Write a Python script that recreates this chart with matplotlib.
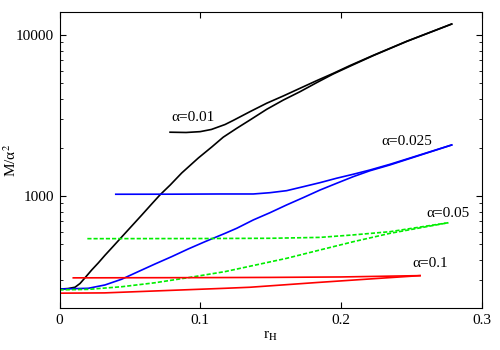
import matplotlib
matplotlib.use('Agg')
import matplotlib.pyplot as plt
from matplotlib.ticker import LogLocator, NullFormatter, FixedLocator, FixedFormatter

# alpha = 0.01
black_low_x = [0, 0.006, 0.011, 0.0146, 0.0181, 0.0229, 0.0276, 0.0323, 0.0383, 0.0442, 0.0513,
               0.0584, 0.0655, 0.0714, 0.0787, 0.0869, 0.0987, 0.1082, 0.1164, 0.126, 0.1354,
               0.1473, 0.1591, 0.171, 0.1828, 0.1946, 0.2065, 0.2231, 0.2468, 0.2788]
black_low_y = [264, 266, 271, 286, 310, 347, 384, 428, 488, 556, 650,
               760, 891, 1015, 1170, 1390, 1722, 2014, 2319, 2633, 2965,
               3455, 3944, 4446, 5058, 5728, 6400, 7450, 9120, 11700]
black_up_x = [0.0786, 0.09, 0.1, 0.108, 0.1177, 0.1236, 0.1354, 0.1473, 0.1591, 0.171, 0.1828,
              0.1946, 0.2065, 0.2231, 0.2468, 0.2788]
black_up_y = [2490, 2480, 2510, 2590, 2780, 2950, 3340, 3769, 4182, 4668, 5204,
              5778, 6460, 7480, 9140, 11700]

# alpha = 0.025
blue_low_x = [0, 0.0205, 0.0323, 0.0442, 0.056, 0.0679, 0.0798, 0.0916, 0.1034, 0.1177, 0.126,
              0.1378, 0.1496, 0.1615, 0.1733, 0.1852, 0.197, 0.2089, 0.2207, 0.2349, 0.2788]
blue_low_y = [264, 267, 280, 304, 339, 378, 420, 469, 520, 586, 630,
              710, 787, 880, 977, 1089, 1199, 1319, 1435, 1559, 2074]
blue_up_x = [0.04, 0.08, 0.1141, 0.1378, 0.1496, 0.1615, 0.1733, 0.1852, 0.197, 0.2089, 0.2207,
             0.2349, 0.2788]
blue_up_y = [1025, 1026, 1029, 1029, 1048, 1079, 1142, 1210, 1289, 1365, 1450,
             1573, 2074]

# alpha = 0.05
green_low_x = [0, 0.0205, 0.0442, 0.0679, 0.0916, 0.1177, 0.1615, 0.1852, 0.2089, 0.2349, 0.2764]
green_low_y = [261, 263, 273, 289, 311, 339, 410, 462, 520, 586, 682]
green_up_x = [0.0198, 0.1, 0.15, 0.1852, 0.2089, 0.2349, 0.2764]
green_up_y = [543, 544, 546, 553, 573, 600, 682]

# alpha = 0.1
red_low_x = [0, 0.032, 0.068, 0.1177, 0.1354, 0.183, 0.23, 0.2563]
red_low_y = [249, 250, 257, 267, 271, 290, 309, 320]
red_up_x = [0.0098, 0.1, 0.15, 0.2, 0.2563]
red_up_y = [310, 311, 312, 314, 320]

labels = ['α=0.01', 'α=0.025', 'α=0.05', 'α=0.1']
label_x = [0.0798, 0.229, 0.2605, 0.2508]
label_y = [3083, 2173, 773, 378]

plt.rcParams['font.family'] = ['Liberation Serif', 'DejaVu Serif']
plt.rcParams['mathtext.fontset'] = 'stix'
plt.rcParams['font.size'] = 11

fig = plt.figure(figsize=(5, 3.5), dpi=100)
ax = fig.add_axes([0.119, 0.1186, 0.844, 0.8457])

lw = 1.2
ax.plot(black_low_x, black_low_y, color='black', lw=lw)
ax.plot(black_up_x, black_up_y, color='black', lw=lw)
ax.plot(blue_low_x, blue_low_y, color='#0000ff', lw=lw)
ax.plot(blue_up_x, blue_up_y, color='#0000ff', lw=lw)
ax.plot(green_low_x, green_low_y, color='#00ee00', lw=lw, dashes=(2.5, 1.2))
ax.plot(green_up_x, green_up_y, color='#00ee00', lw=lw, dashes=(2.5, 1.2))
ax.plot(red_low_x, red_low_y, color='#ff0000', lw=lw)
ax.plot(red_up_x, red_up_y, color='#ff0000', lw=lw)

for t, x, y in zip(labels, label_x, label_y):
    ax.text(x, y, t, ha='left', va='center', fontsize=11)

ax.set_yscale('log')
ax.set_xlim(0, 0.3)
ax.set_ylim(200, 13800)
ax.xaxis.set_major_locator(FixedLocator([0, 0.1, 0.2, 0.3]))
ax.xaxis.set_major_formatter(FixedFormatter(['0', '0.1', '0.2', '0.3']))
ax.yaxis.set_major_locator(FixedLocator([1000, 10000]))
ax.yaxis.set_major_formatter(FixedFormatter(['1000', '10000']))
ax.yaxis.set_minor_locator(LogLocator(base=10, subs=range(2, 10)))
ax.yaxis.set_minor_formatter(NullFormatter())

ax.tick_params(which='both', direction='in', top=True, right=True)
ax.tick_params(which='major', length=4, width=0.8, pad=4)
ax.tick_params(which='minor', length=2.5, width=0.6)

ax.set_xlabel('r$_\\mathrm{H}$', labelpad=2)
ax.set_ylabel('M/α$^2$')
ax.yaxis.set_label_coords(-0.095, 0.5)

plt.savefig('out.png', dpi=100)
